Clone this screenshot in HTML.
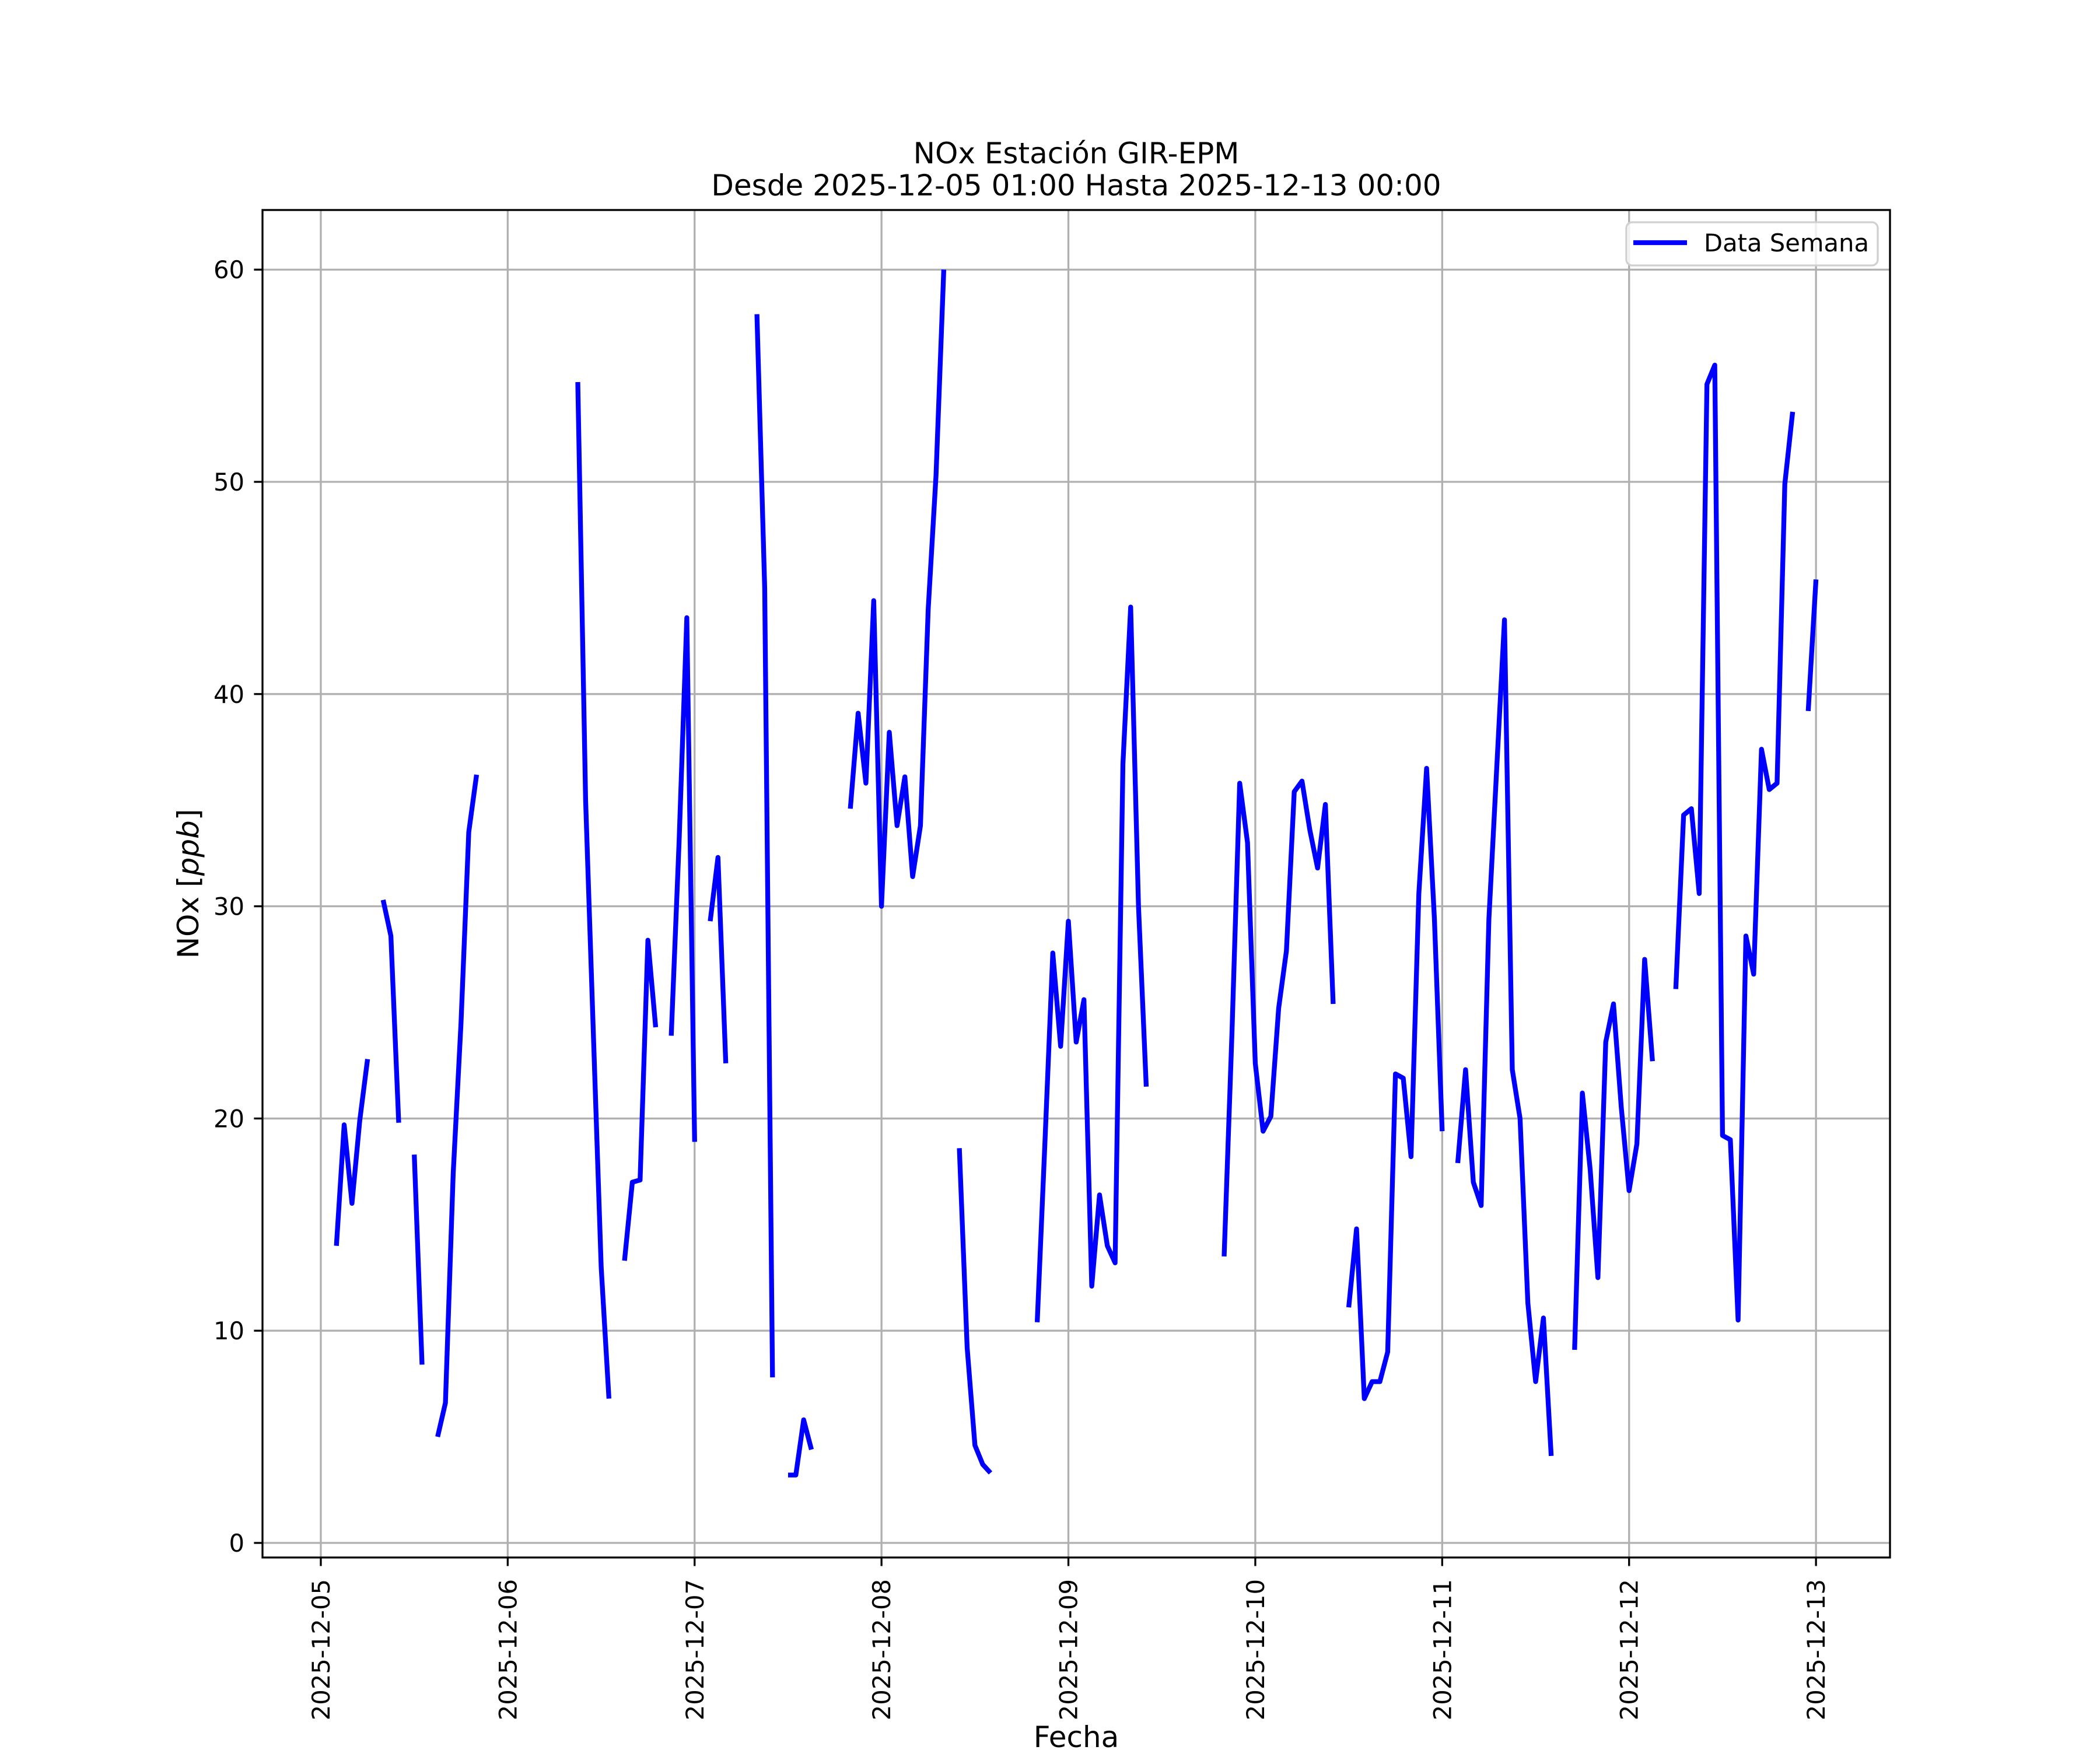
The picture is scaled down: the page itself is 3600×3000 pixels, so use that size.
<!DOCTYPE html>
<html><head><meta charset="utf-8"><style>
html,body{margin:0;padding:0;background:#fff}
svg{display:block}
text{font-family:"DejaVu Sans","Liberation Sans",sans-serif;fill:#000}
</style></head><body>
<svg id="chart" xmlns="http://www.w3.org/2000/svg" width="3600" height="3000" viewBox="0 0 3600 3000">
<rect width="3600" height="3000" fill="#fff"/>
<g id="grid"></g>
<g id="series"></g>
<rect x="450" y="360" width="2790" height="2310" fill="none" stroke="#000" stroke-width="3.3"/>
<g id="ticks"></g>
<text x="1845" y="280" font-size="50" text-anchor="middle">NOx Estación GIR-EPM</text>
<text x="1845" y="335" font-size="50" text-anchor="middle">Desde 2025-12-05 01:00 Hasta 2025-12-13 00:00</text>
<text transform="translate(340,1515) rotate(-90)" font-size="50" text-anchor="middle">NOx [<tspan font-style="italic">ppb</tspan>]</text>
<text x="1845" y="2995" font-size="50" text-anchor="middle">Fecha</text>
<g>
<rect x="2788" y="381" width="431" height="74" rx="10" fill="#fff" fill-opacity="0.8" stroke="#d0d0d0" stroke-width="3.3"/>
<line x1="2800" y1="416" x2="2892" y2="416" stroke="#0000ff" stroke-width="8.3"/>
<text x="2921" y="431" font-size="41.7">Data Semana</text>
</g>
</svg>
<script>
const tickDays = [0,1,2,3,4,5,6,7,8];
const tickLabels = ["2025-12-05","2025-12-06","2025-12-07","2025-12-08","2025-12-09","2025-12-10","2025-12-11","2025-12-12","2025-12-13"];
const yTicks = [0,10,20,30,40,50,60];
const segStarts = [2,8,12,15,33,39,45,50,56,60,68,82,92,116,132,146,161,174,191];
const segValues = [
 [14.0,19.7,16.0,19.9,22.8],
 [30.3,28.6,19.8],
 [18.3,8.4],
 [5.0,6.6,17.4,24.5,33.5,36.2],
 [54.7,35.0,24.0,13.0,6.8],
 [13.3,17.0,17.1,28.4,24.3],
 [23.9,33.0,43.6,18.9],
 [29.3,32.3,22.6],
 [57.9,45.0,7.8],
 [3.2,3.2,5.8,4.4],
 [34.6,39.1,35.8,44.4,30.0,38.2,33.8,36.1,31.4,33.8,44.0,50.3,60.0],
 [18.6,9.2,4.6,3.7,3.3],
 [10.4,19.0,27.8,23.4,29.3,23.6,25.6,12.1,16.4,14.0,13.2,36.7,44.1,30.0,21.5],
 [13.5,24.0,35.8,33.0,22.6,19.4,20.1,25.2,27.9,35.4,35.9,33.6,31.8,34.8,25.4],
 [11.1,14.8,6.8,7.6,7.6,9.0,22.1,21.9,18.2,30.6,36.5,29.4,19.4],
 [17.9,22.3,17.0,15.9,29.4,36.5,43.5,22.3,20.0,11.3,7.6,10.6,4.1],
 [9.1,21.2,17.6,12.5,23.6,25.4,20.5,16.6,18.8,27.5,22.7],
 [26.1,34.3,34.6,30.6,54.6,55.5,19.2,19.0,10.5,28.6,26.8,37.4,35.5,35.8,49.9,53.3],
 [39.2,45.4]
];
const NS="http://www.w3.org/2000/svg";
const L=450,R=3240,T=360,B=2670;
const xMin=-0.312,xMax=8.396,yMin=-0.687,yMax=62.81;
function xs(d){return L+(d-xMin)/(xMax-xMin)*(R-L);}
function ys(v){return B-(v-yMin)/(yMax-yMin)*(B-T);}
function mk(tag,attrs,parent){const e=document.createElementNS(NS,tag);for(const k in attrs)e.setAttribute(k,attrs[k]);parent.appendChild(e);return e;}
const grid=document.getElementById('grid'),ticks=document.getElementById('ticks'),series=document.getElementById('series');
tickDays.forEach((d,i)=>{
  const x=xs(d);
  const g=mk('line',{x1:x,y1:T,x2:x,y2:B,stroke:'#b0b0b0','stroke-width':3.3},grid);
  
  
  const t=mk('line',{x1:x,y1:B,x2:x,y2:B+14.6,stroke:'#000','stroke-width':3.3},ticks);
  
  
  const lb=mk('text',{transform:`translate(${x+15},2707) rotate(-90)`,'font-size':41.7,'text-anchor':'end'},ticks);
  lb.textContent=tickLabels[i];
  
  
});
yTicks.forEach(v=>{
  const y=ys(v);
  const g=mk('line',{x1:L,y1:y,x2:R,y2:y,stroke:'#b0b0b0','stroke-width':3.3},grid);
  
  
  const t=mk('line',{x1:L-14.6,y1:y,x2:L,y2:y,stroke:'#000','stroke-width':3.3},ticks);
  
  
  const lb=mk('text',{x:419,y:y+15,'font-size':41.7,'text-anchor':'end'},ticks);
  lb.textContent=String(v);
  
  
});
segValues.forEach((vals,i)=>{
  const pts=vals.map((v,j)=>xs((segStarts[i]+j)/24).toFixed(1)+','+ys(v).toFixed(1)).join(' ');
  const p=mk('polyline',{points:pts,fill:'none',stroke:'#0000ff','stroke-width':8.3,'stroke-linejoin':'round','stroke-linecap':'butt'},series);
  
  
});
</script>
</body></html>
